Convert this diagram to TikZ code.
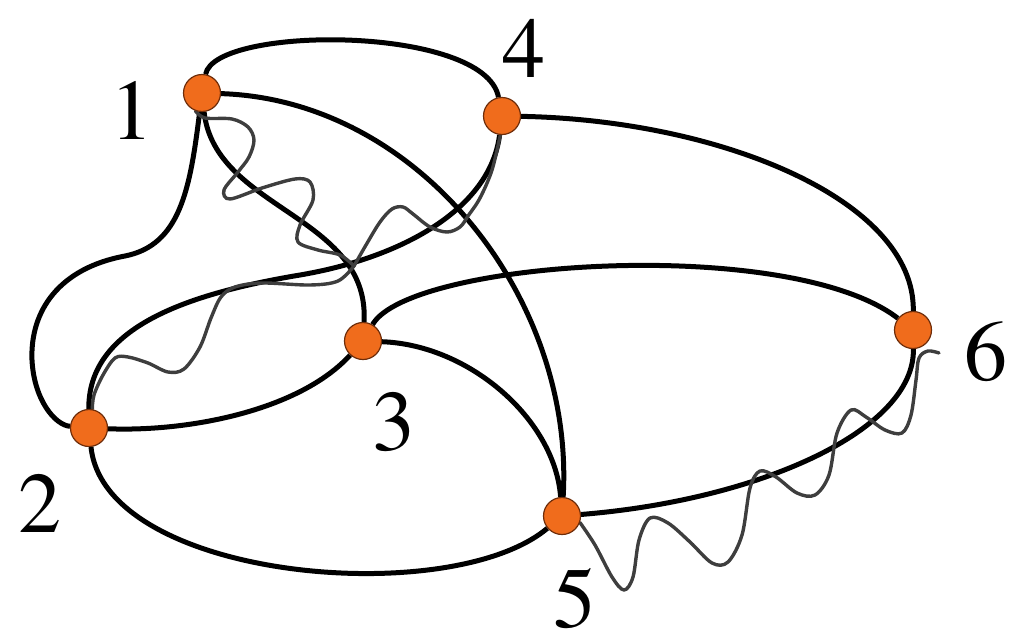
\documentclass[tikz,border=0pt]{standalone}
\usepackage[T1]{fontenc}
\usetikzlibrary{backgrounds}
\definecolor{vtxorange}{RGB}{240,108,28}
\definecolor{vtxrim}{RGB}{110,45,10}
\definecolor{wavegray}{RGB}{62,62,62}

\begin{document}
\begin{tikzpicture}[
    x=1pt, y=-1pt,
    vtx/.style={circle, draw=vtxrim, line width=1.2pt, fill=vtxorange,
                minimum size=37pt, inner sep=0pt},
    num/.style={inner sep=0pt, font=\fontfamily{ptm}\fontsize{86}{86}\selectfont},
    edge/.style={line width=5pt, black},
    wave/.style={line width=3.4pt, wavegray, line cap=round, line join=round}
]
\useasboundingbox (0,0) rectangle (1011,643);
\node[vtx] (v1) at (202,93) {};
\node[vtx] (v2) at (89,428) {};
\node[vtx] (v3) at (363,341) {};
\node[vtx] (v4) at (502,116) {};
\node[vtx] (v5) at (562,516) {};
\node[vtx] (v6) at (913,330) {};
\node[num] (l1) at (132,110) {1};
\node[num] (l2) at (40,503) {2};
\node[num] (l3) at (394,422) {3};
\node[num] (l4) at (524,48) {4};
\node[num] (l5) at (575,599) {5};
\node[num] (l6) at (986,352) {6};
\coordinate (jn) at (354,266);
\begin{scope}[on background layer]
\draw[edge] (v1) .. controls (215,25) and (485,25) .. (v4);
\draw[edge] (v1) .. controls (420,100) and (575,300) .. (v5);
\draw[edge] (v1) .. controls (215,210) and (370,215) .. (v3);
\draw[edge] (v1) .. controls (190,190) and (180,245) .. (125,256)
            .. controls (60,268) and (30,310) .. (32,360)
            .. controls (34,400) and (55,425) .. (v2);
\draw[edge] (v4) .. controls (490,210) and (400,258) .. (300,275)
            .. controls (180,295) and (88,330) .. (v2);
\draw[edge] (v4) .. controls (720,120) and (915,200) .. (v6);
\draw[edge] (v3) .. controls (410,260) and (790,235) .. (v6);
\draw[edge] (v3) .. controls (300,410) and (190,432) .. (v2);
\draw[edge] (v3) .. controls (470,345) and (555,420) .. (v5);
\draw[edge] (v2) .. controls (105,580) and (450,610) .. (v5);
\draw[edge] (v5) .. controls (760,500) and (915,430) .. (v6);
\draw[wave] plot[smooth, tension=0.55] coordinates {(v1.250) (205,118) (232,119) (248,127)
    (254,140) (249,157) (238,172) (224,190) (230,199) (262,188) (295,179) (310,182)
    (313,200) (300,225) (298,242) (318,250) (340,255) (jn)};
\draw[wave] plot[smooth, tension=0.55] coordinates {(jn) (366,245) (380,222) (392,209)
    (403,207) (413,214) (430,227) (447,232) (460,227) (468,216) (480,198) (492,170) (v4.265)};
\draw[wave] plot[smooth, tension=0.55] coordinates {(jn) (338,281) (310,285) (262,283)
    (235,287) (221,297) (211,318) (200,347) (184,369) (168,372) (148,363) (128,357)
    (115,358) (103,375) (94,395) (v2.80)};
\draw[wave] plot[smooth, tension=0.55] coordinates {(v5.-20) (595,545) (612,577) (624,590)
    (633,577) (639,540) (650,518) (668,523) (690,542) (712,563) (728,562) (742,535)
    (750,488) (760,471) (776,477) (797,493) (815,495) (829,475) (837,433) (851,410)
    (866,417) (885,430) (902,433) (911,415) (916,380) (919,358) (928,351) (939,353)};
\end{scope}
\end{tikzpicture}
\end{document}
